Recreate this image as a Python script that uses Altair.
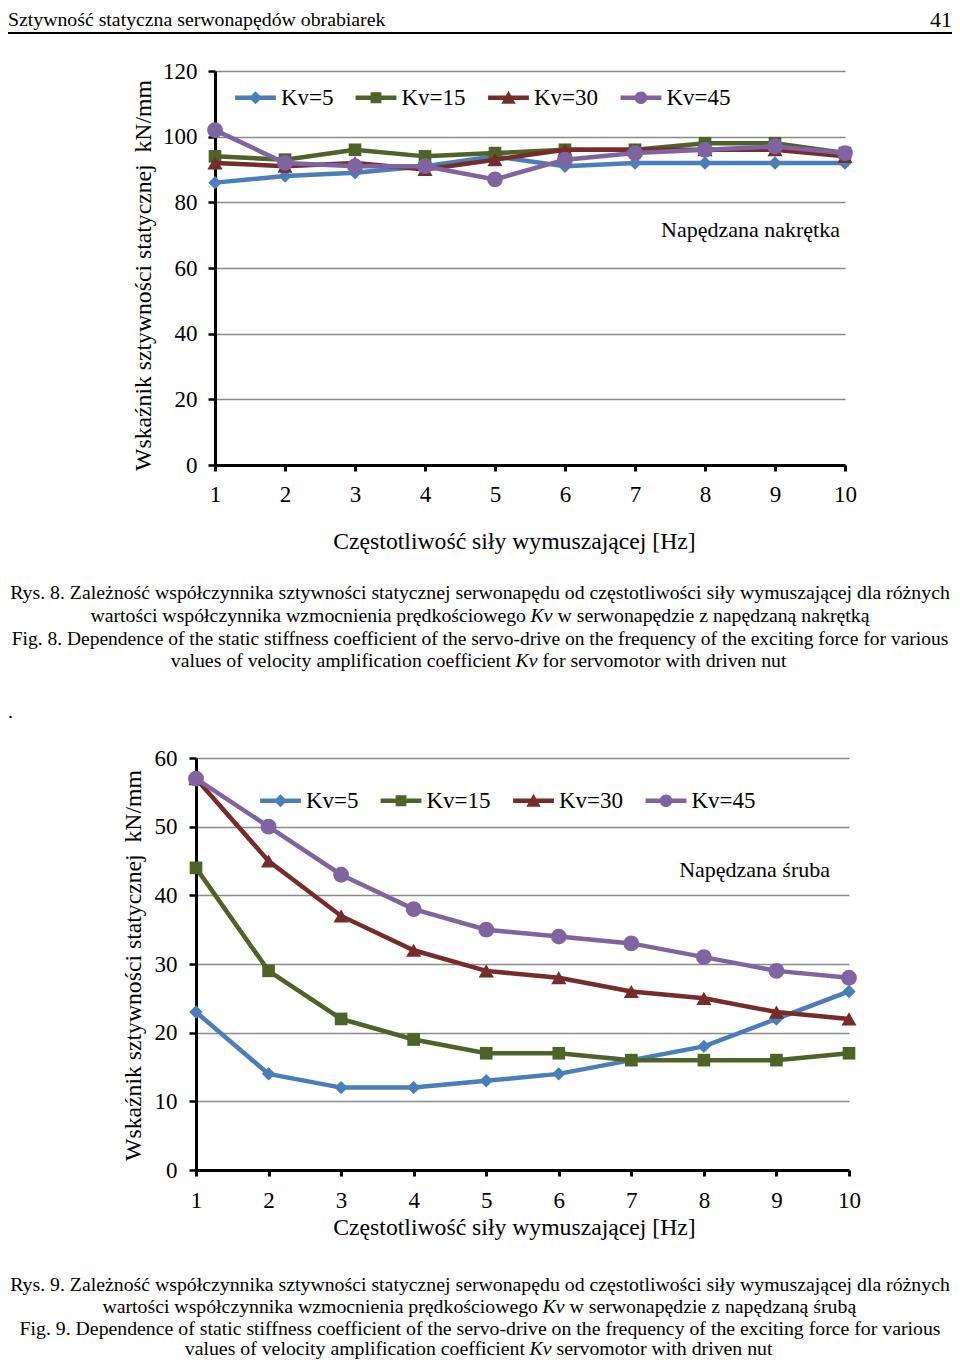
import altair as alt
import pandas as pd

# ---------------- data ----------------
freq = [1, 2, 3, 4, 5, 6, 7, 8, 9, 10]
series = ["Kv=5", "Kv=15", "Kv=30", "Kv=45"]
colors = ["#4A7EBB", "#4F6228", "#772C2A", "#8064A2"]

nut_kv5 = [86, 88, 89, 91, 94, 91, 92, 92, 92, 92]
nut_kv15 = [94, 93, 96, 94, 95, 96, 96, 98, 98, 95]
nut_kv30 = [92, 91, 92, 90, 93, 96, 96, 96, 96, 94]
nut_kv45 = [102, 92, 91, 91, 87, 93, 95, 96, 97, 95]

screw_kv5 = [23, 14, 12, 12, 13, 14, 16, 18, 22, 26]
screw_kv15 = [44, 29, 22, 19, 17, 17, 16, 16, 16, 17]
screw_kv30 = [57, 45, 37, 32, 29, 28, 26, 25, 23, 22]
screw_kv45 = [57, 50, 43, 38, 35, 34, 33, 31, 29, 28]

y_ticks_nut = [0, 20, 40, 60, 80, 100, 120]
y_ticks_screw = [0, 10, 20, 30, 40, 50, 60]

x_title = "Częstotliwość siły wymuszającej [Hz]"
y_title = "Wskaźnik sztywności statycznej\u00a0 kN/mm"

FONT = "Liberation Serif"
W, H = 944, 1352
CAP = 19.8

marker_shapes = ["diamond", "square", "triangle-up", "circle"]
marker_sizes = [180, 160, 230, 250]
line_part = "M-3.4,-0.36H3.4V0.36H-3.4Z"
legend_paths = [
    line_part + "M0,-1.1L1.1,0L0,1.1L-1.1,0Z",
    line_part + "M-0.9,-0.9H0.9V0.9H-0.9Z",
    line_part + "M0,-1.15L1.2,1.0H-1.2Z",
    line_part + "M-1.05,0A1.05,1.05 0 1,1 1.05,0A1.05,1.05 0 1,1 -1.05,0Z",
]


def long_df(cols):
    rows = []
    for s, vals in zip(series, cols):
        for f, v in zip(freq, vals):
            rows.append({"f": f, "v": v, "s": s})
    return pd.DataFrame(rows)


df_nut = long_df([nut_kv5, nut_kv15, nut_kv30, nut_kv45])
df_screw = long_df([screw_kv5, screw_kv15, screw_kv30, screw_kv45])


def panel(df, xr, yr, ydom, yticks, x_off, y_off, x_lab_pad, y_lab_pad,
          xt_x, xt_y, yt_x, yt_y, leg_x, leg_y):
    xenc = alt.X(
        "f:Q",
        scale=alt.Scale(domain=[1, 10], range=xr, nice=False, zero=False),
        axis=alt.Axis(
            orient="bottom", offset=x_off, values=freq, format="d",
            grid=False, domainColor="black", domainWidth=3,
            tickColor="black", tickWidth=3, tickSize=6,
            labelFont=FONT, labelFontSize=23, labelColor="black",
            labelPadding=x_lab_pad, labelFlush=False, labelOverlap=False,
            title=x_title, titleFont=FONT, titleFontSize=23.7,
            titleFontWeight="normal", titleColor="black",
            titleX=xt_x, titleY=xt_y, titleBaseline="middle", titleAlign="center",
        ),
    )
    yenc = alt.Y(
        "v:Q",
        scale=alt.Scale(domain=ydom, range=yr, nice=False),
        axis=alt.Axis(
            orient="left", offset=y_off, values=yticks, format="d",
            grid=True, gridColor="#8a8a8a", gridWidth=1.5,
            domainColor="black", domainWidth=3,
            tickColor="black", tickWidth=2.5, tickSize=7,
            labelFont=FONT, labelFontSize=23, labelColor="black",
            labelPadding=y_lab_pad, labelFlush=False, labelOverlap=False,
            title=y_title, titleFont=FONT, titleFontSize=23.7,
            titleFontWeight="normal", titleColor="black",
            titleX=yt_x, titleY=yt_y, titleBaseline="middle", titleAlign="center",
            titleAngle=270,
        ),
    )
    layers = []
    for i, s in enumerate(series):
        base = alt.Chart(df[df["s"] == s])
        layers.append(base.mark_line(strokeWidth=4.5, color=colors[i]).encode(x=xenc, y=yenc))
        layers.append(base.mark_point(shape=marker_shapes[i], size=marker_sizes[i],
                                      filled=True, opacity=1, color=colors[i]).encode(x=xenc, y=yenc))
    # legend-only layer: no rows, the legend entries come from the scale domain
    leg = alt.Chart(df.iloc[0:0]).mark_point(filled=True, opacity=1).encode(
        x=xenc, y=yenc,
        color=alt.Color("s:N", scale=alt.Scale(domain=series, range=colors),
                        sort=series,
                        legend=alt.Legend(
                            title=None, orient="none", legendX=leg_x, legendY=leg_y,
                            direction="horizontal", symbolSize=144, symbolOpacity=1,
                            symbolStrokeWidth=0, labelFont=FONT, labelFontSize=23,
                            labelColor="black", labelOffset=14, columnPadding=21.5,
                            padding=0, symbolLimit=0)),
        shape=alt.Shape("s:N", sort=series,
                        scale=alt.Scale(domain=series, range=legend_paths)),
    )
    layers.append(leg)
    return alt.layer(*layers)


chart_nut = panel(df_nut, [207, 837], [457, 63], [0, 120], y_ticks_nut,
                  457 - H, -207, 12, 11, 506, 76, -72, 267, 236, 78)
chart_screw = panel(df_screw, [188, 841], [1162, 750], [0, 60], y_ticks_screw,
                    1162 - H, -188, 13, 12, 506, 57, -63, 957, 261, 781)


def txt(t, x, y, size=CAP, align="center", italic=False):
    return alt.Chart(pd.DataFrame({"t": [t]})).mark_text(
        font=FONT, fontSize=size, align=align, baseline="middle",
        fontStyle="italic" if italic else "normal", color="black",
    ).encode(text="t:N", x=alt.value(x), y=alt.value(y))


texts = [
    txt("Sztywność statyczna serwonapędów obrabiarek", 0, 12, 19.8, "left"),
    txt("41", 944, 12, 22, "right"),
    alt.Chart(pd.DataFrame({"a": [0]})).mark_rule(color="black", strokeWidth=2).encode(
        x=alt.value(0), x2=alt.value(944), y=alt.value(25)),
    txt("Napędzana nakrętka", 832, 222, 22, "right"),
    txt("Napędzana śruba", 822, 862, 22, "right"),
    # captions Rys. 8
    txt("Rys. 8. Zależność współczynnika sztywności statycznej serwonapędu od częstotliwości siły wymuszającej dla różnych", 472, 585),
    txt("wartości współczynnika wzmocnienia prędkościowego", 518, 608, align="right"),
    txt("Kv", 522.5, 608, align="left", italic=True),
    txt("w serwonapędzie z napędzaną nakrętką", 549.5, 608, align="left"),
    txt("Fig. 8. Dependence of the static stiffness coefficient of the servo-drive on the frequency of the exciting force for various", 472, 631, 19.5),
    txt("values of velocity amplification coefficient", 503, 653, align="right"),
    txt("Kv", 507.5, 653, align="left", italic=True),
    txt("for servomotor with driven nut", 534.5, 653, align="left"),
    txt(".", 0, 704, align="left"),
    # captions Rys. 9
    txt("Rys. 9. Zależność współczynnika sztywności statycznej serwonapędu od częstotliwości siły wymuszającej dla różnych", 472, 1277),
    txt("wartości współczynnika wzmocnienia prędkościowego", 530, 1299, align="right"),
    txt("Kv", 534.5, 1299, align="left", italic=True),
    txt("w serwonapędzie z napędzaną śrubą", 561.5, 1299, align="left"),
    txt("Fig. 9. Dependence of static stiffness coefficient of the servo-drive on the frequency of the exciting force for various", 472, 1321),
    txt("values of velocity amplification coefficient", 517, 1341, align="right"),
    txt("Kv", 521.5, 1341, align="left", italic=True),
    txt("servomotor with driven nut", 548.5, 1341, align="left"),
]

chart = alt.layer(chart_nut, chart_screw, *texts).resolve_scale(
    x="independent", y="independent", color="independent", shape="independent"
).properties(
    width=W, height=H, padding=0, autosize=alt.AutoSizeParams(type="none"),
    background="white",
).configure_view(stroke=None)

chart.save("out.html", embed_options={"renderer": "svg", "actions": False})
